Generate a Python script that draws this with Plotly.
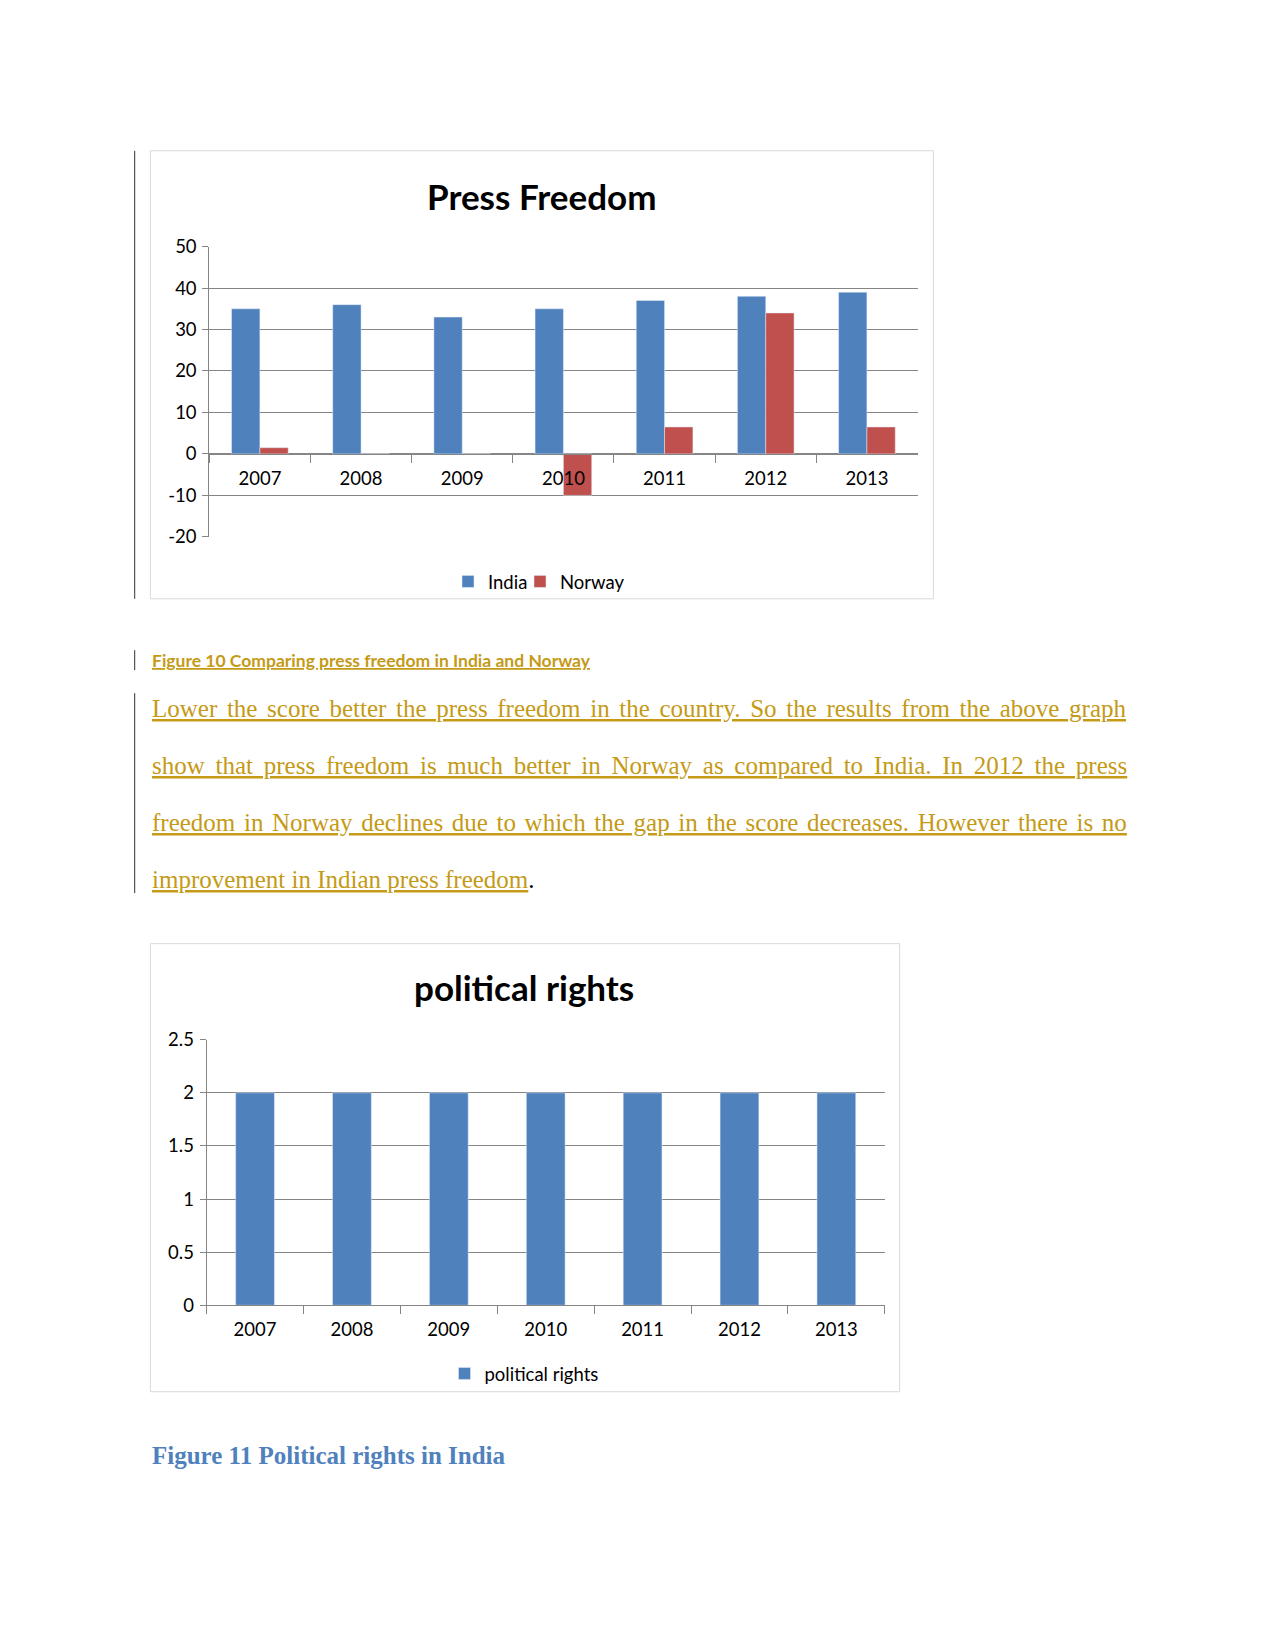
import plotly.graph_objects as go

W, H = 1275, 1650

years = ["2007", "2008", "2009", "2010", "2011", "2012", "2013"]
india_press = [35, 36, 33, 35, 37, 38, 39]
norway_press = [1.5, 0, 0, -10, 6.5, 34, 6.5]
political_rights = [2, 2, 2, 2, 2, 2, 2]

press_ticks = [-20, -10, 0, 10, 20, 30, 40, 50]
press_ticklabels = ["-20", "-10", "0", "10", "20", "30", "40", "50"]
rights_ticks = [0, 0.5, 1, 1.5, 2, 2.5]
rights_ticklabels = ["0", "0.5", "1", "1.5", "2", "2.5"]

title1 = "Press Freedom"
title2 = "political rights"
caption10 = "Figure 10 Comparing press freedom in India and Norway"
caption11 = "Figure 11 Political rights in India"
para_lines = [
    "Lower the score better the press freedom in the country. So the results from the above graph",
    "show that press freedom is much better in Norway as compared to India. In 2012 the press",
    "freedom in Norway declines due to which the gap in the score decreases. However there is no",
    "improvement in Indian press freedom",
]
para_wordspacing = [3.4, 4.5, 2.4, 0]

BLUE = "#4F81BD"
RED = "#C0504D"
GRID = "#858585"
GOLD = "#C49A16"
SANS = "Lato, Carlito, Calibri, sans-serif"
SERIF = "Liberation Serif, Times New Roman, serif"

# vertical placement correction observed in the rendered page
VSCALE, VOFF = 0.987, 11.6


def px(x):
    return x / W


def py(y):
    return 1 - ((y - VOFF) / VSCALE) / H


fig = go.Figure()

fig.add_trace(go.Bar(x=years, y=india_press, name="India", marker_color=BLUE,
                     width=0.28, offset=-0.28, xaxis="x", yaxis="y", legend="legend"))
fig.add_trace(go.Bar(x=years, y=norway_press, name="Norway", marker_color=RED,
                     width=0.28, offset=0.0, xaxis="x", yaxis="y", legend="legend3"))
fig.add_trace(go.Bar(x=years, y=political_rights, name="political rights", marker_color=BLUE,
                     width=0.4, offset=-0.2, xaxis="x2", yaxis="y2", legend="legend2"))

# chart 1 plot area
x1d = [px(209.3), px(917.5)]
y1d = [py(536.6), py(246.3)]
ymin1, ymax1 = -20, 50
pos0 = y1d[0] + (0 - ymin1) / (ymax1 - ymin1) * (y1d[1] - y1d[0])

# chart 2 plot area
x2d = [px(206.6), px(884.8)]
y2d = [py(1305.3), py(1039.7)]

tickfont = dict(family=SANS, size=18.5, color="#000000")
legfont = dict(family=SANS, size=18.5, color="#000000")

fig.update_layout(
    width=W, height=H,
    margin=dict(l=0, r=0, t=0, b=0),
    paper_bgcolor="white", plot_bgcolor="white",
    barmode="group",
    showlegend=True,
    xaxis=dict(domain=x1d, anchor="free", position=pos0, type="category",
               showline=True, linecolor=GRID, linewidth=1,
               ticks="outside", tickson="boundaries", ticklen=8, tickcolor=GRID,
               showgrid=False, tickfont=tickfont, ticklabelstandoff=8),
    yaxis=dict(domain=y1d, anchor="x", range=[ymin1, ymax1],
               tickmode="array", tickvals=press_ticks, ticktext=press_ticklabels,
               showline=True, linecolor=GRID, linewidth=1,
               ticks="outside", ticklen=6, tickcolor=GRID,
               showgrid=True, gridcolor=GRID, gridwidth=1.2, zeroline=False,
               tickfont=tickfont, ticklabelstandoff=2),
    xaxis2=dict(domain=x2d, anchor="y2", type="category",
                showline=True, linecolor=GRID, linewidth=1,
                ticks="outside", tickson="boundaries", ticklen=8, tickcolor=GRID,
                showgrid=False, tickfont=tickfont, ticklabelstandoff=8),
    yaxis2=dict(domain=y2d, anchor="x2", range=[0, 2.5],
                tickmode="array", tickvals=rights_ticks, ticktext=rights_ticklabels,
                showline=True, linecolor=GRID, linewidth=1,
                ticks="outside", ticklen=6, tickcolor=GRID,
                showgrid=True, gridcolor=GRID, gridwidth=1.2, zeroline=False,
                tickfont=tickfont, ticklabelstandoff=2),
    legend=dict(orientation="h", x=px(448), y=py(581.7), xanchor="left", yanchor="middle",
                font=legfont, bgcolor="rgba(0,0,0,0)", itemwidth=30),
    legend3=dict(orientation="h", x=px(520), y=py(581.7), xanchor="left", yanchor="middle",
                 font=legfont, bgcolor="rgba(0,0,0,0)", itemwidth=30),
    legend2=dict(orientation="h", x=px(524), y=py(1374), xanchor="center", yanchor="middle",
                 font=legfont, bgcolor="rgba(0,0,0,0)", itemwidth=30),
)

shapes = [
    # chart borders
    dict(type="rect", xref="paper", yref="paper", x0=px(150.4), x1=px(933.4), y0=py(598.6), y1=py(150.4),
         line=dict(color="#D9D9D9", width=1), layer="below"),
    dict(type="rect", xref="paper", yref="paper", x0=px(150.4), x1=px(899.6), y0=py(1391.8), y1=py(943.6),
         line=dict(color="#D9D9D9", width=1), layer="below"),
    # revision bars on the left margin
    dict(type="line", xref="paper", yref="paper", x0=px(134.7), x1=px(134.7), y0=py(150.4), y1=py(598.6),
         line=dict(color="#333333", width=1)),
    dict(type="line", xref="paper", yref="paper", x0=px(134.7), x1=px(134.7), y0=py(650), y1=py(670),
         line=dict(color="#333333", width=1)),
    dict(type="line", xref="paper", yref="paper", x0=px(134.7), x1=px(134.7), y0=py(693), y1=py(893),
         line=dict(color="#333333", width=1)),
]
fig.update_layout(shapes=shapes)

annotations = [
    dict(text="<b>" + title1 + "</b>", x=px(541.8), y=py(195.7), xref="paper", yref="paper",
         xanchor="center", yanchor="middle", showarrow=False,
         font=dict(family=SANS, size=35, color="#000000")),
    dict(text="<b>" + title2 + "</b>", x=px(524), y=py(986.8), xref="paper", yref="paper",
         xanchor="center", yanchor="middle", showarrow=False,
         font=dict(family=SANS, size=35, color="#000000")),
    dict(text="<b><u>" + caption10 + "</u></b>", x=px(150.4), y=py(660.5), xref="paper", yref="paper",
         xanchor="left", yanchor="middle", showarrow=False,
         font=dict(family=SANS, size=17.5, color=GOLD)),
    dict(text="<b>" + caption11 + "</b>", x=px(150.4), y=py(1456), xref="paper", yref="paper",
         xanchor="left", yanchor="middle", showarrow=False,
         font=dict(family=SERIF, size=25, color=BLUE)),
]
para_y = [708, 765, 822.6, 879.5]
for i, (line, yy, ws) in enumerate(zip(para_lines, para_y, para_wordspacing)):
    txt = "<span style='word-spacing:%.1fpx'><u>%s</u></span>" % (ws, line)
    if i == len(para_lines) - 1:
        txt += "<span style='color:#000000'>.</span>"
    annotations.append(dict(text=txt, x=px(150.4), y=py(yy), xref="paper", yref="paper",
                            xanchor="left", yanchor="middle", showarrow=False,
                            font=dict(family=SERIF, size=25, color=GOLD)))
fig.update_layout(annotations=annotations)

fig.write_html("out.html", config={"displayModeBar": False})
